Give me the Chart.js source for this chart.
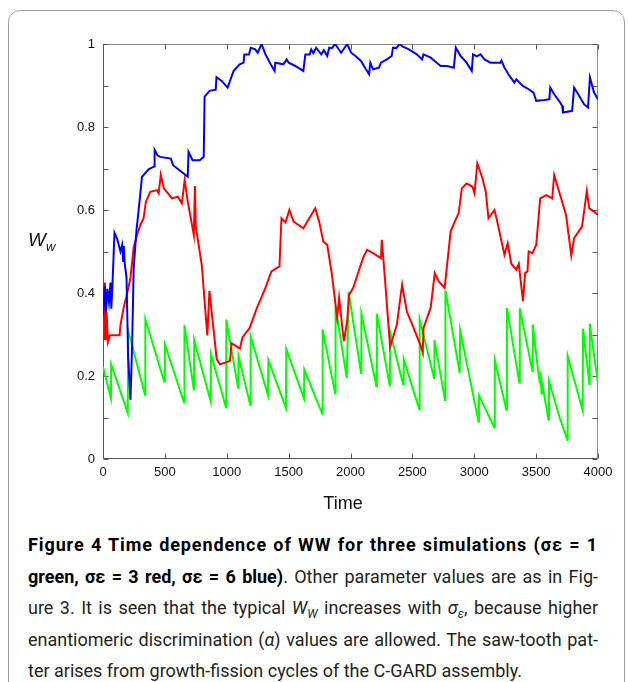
<!DOCTYPE html>
<html>
<head>
<meta charset="utf-8">
<script src="https://cdn.jsdelivr.net/npm/chart.js@4.4.1/dist/chart.umd.min.js"></script>
<style>
  html, body { margin:0; padding:0; background:#fff; }
  body { width:628px; height:682px; overflow:hidden; position:relative; }
  #card { position:absolute; left:8px; top:10px; width:617px; height:720px;
          border:1.5px solid #a0a0a0; border-radius:12px; box-sizing:border-box; }
  #c { position:absolute; left:0; top:0; }
  #ylab { position:absolute; left:28px; top:229px; font: italic 19px "Liberation Sans", Arial, sans-serif; color:#111; }
  #ylab sub { font-size:13px; vertical-align:-5px; }
  #xlab { position:absolute; left:0; width:686px; top:493px; text-align:center;
          font: 18px "Liberation Sans", Arial, sans-serif; color:#111; }
  #cap { position:absolute; left:28px; top:529px; width:570px;
         font-family: Roboto, "Open Sans", sans-serif; font-size:18px; line-height:31.5px; color:#231f20; }
  #cap .ln { text-align:justify; text-align-last:justify; white-space:normal; height:31.5px; overflow:visible; }
  #cap .first b { letter-spacing:0.9px; }
  #cap .last { text-align-last:left; }
  #cap b { font-weight:700; color:#000; }
  #cap sub { font-size:12px; vertical-align:-4px; }
</style>
</head>
<body>
<div id="card"></div>
<canvas id="c" width="628" height="520"></canvas>
<div id="ylab">W<sub>w</sub></div>
<div id="xlab">Time</div>
<div id="cap">
  <div class="ln first"><b>Figure 4 Time dependence of WW for three simulations (σε = 1</b></div>
  <div class="ln"><b>green, σε = 3 red, σε = 6 blue)</b>. Other parameter values are as in Fig-</div>
  <div class="ln">ure 3. It is seen that the typical <i>W<sub>W</sub></i> increases with <i>σ<sub>ε</sub></i>, because higher</div>
  <div class="ln">enantiomeric discrimination (<i>α</i>) values are allowed. The saw-tooth pat-</div>
  <div class="ln last">ter arises from growth-fission cycles of the C-GARD assembly.</div>
</div>
<script>
// ---- data (time, W_w) ----
const xTickValues = [0, 500, 1000, 1500, 2000, 2500, 3000, 3500, 4000];
const yTickLabels = ['0', '0.2', '0.4', '0.6', '0.8', '1'];

const greenTime = [0,64,66,200,203,340,342,495,500,655,658,735,737,870,873,994,996,1092,1095,1190,1193,1333,1336,1478,1481,1624,1627,1772,1775,1876,1879,1970,1985,2085,2088,2210,2213,2318,2321,2425,2430,2556,2559,2675,2678,2764,2767,2883,2886,3035,3038,3163,3166,3260,3264,3365,3368,3470,3473,3520,3527,3535,3545,3550,3600,3604,3690,3752,3755,3876,3879,3930,3933,4000];
const greenW    = [0.222,0.146,0.228,0.111,0.31,0.154,0.337,0.186,0.276,0.136,0.322,0.165,0.287,0.139,0.252,0.124,0.336,0.171,0.248,0.13,0.296,0.154,0.238,0.123,0.265,0.146,0.215,0.109,0.312,0.158,0.368,0.195,0.403,0.207,0.35,0.175,0.35,0.175,0.305,0.18,0.24,0.12,0.336,0.195,0.287,0.142,0.406,0.207,0.31,0.09,0.153,0.076,0.238,0.118,0.364,0.184,0.363,0.212,0.324,0.202,0.19,0.2,0.155,0.18,0.095,0.188,0.1,0.046,0.248,0.117,0.314,0.181,0.326,0.182];

const redTime = [0,8,16,24,29,40,56,134,141,168,195,222,248,275,302,328,347,382,435,450,467,492,525,557,605,637,660,685,734,743,750,798,843,860,919,945,1026,1039,1106,1127,1186,1240,1315,1361,1426,1442,1475,1506,1540,1619,1715,1747,1780,1812,1850,1892,1908,1940,1947,1973,1989,2021,2101,2134,2182,2246,2253,2278,2320,2375,2417,2455,2520,2568,2584,2590,2648,2681,2713,2761,2809,2842,2874,2900,2938,2986,3002,3025,3067,3093,3115,3163,3180,3244,3270,3300,3340,3360,3394,3411,3430,3440,3470,3501,3533,3582,3630,3646,3678,3742,3784,3807,3871,3910,3929,3968,4000];
const redW    = [0.302,0.286,0.425,0.286,0.354,0.282,0.298,0.298,0.322,0.366,0.398,0.437,0.51,0.54,0.564,0.58,0.62,0.644,0.648,0.64,0.685,0.652,0.64,0.628,0.632,0.616,0.672,0.62,0.54,0.658,0.56,0.468,0.298,0.405,0.24,0.228,0.236,0.279,0.266,0.293,0.316,0.361,0.414,0.452,0.464,0.58,0.57,0.6,0.572,0.556,0.604,0.572,0.524,0.516,0.444,0.34,0.388,0.3,0.284,0.332,0.396,0.412,0.484,0.504,0.496,0.484,0.528,0.436,0.27,0.324,0.42,0.356,0.308,0.272,0.256,0.316,0.364,0.448,0.428,0.412,0.548,0.572,0.592,0.652,0.664,0.656,0.64,0.712,0.676,0.644,0.58,0.6,0.58,0.492,0.52,0.47,0.456,0.47,0.38,0.448,0.452,0.5,0.496,0.516,0.628,0.636,0.628,0.684,0.652,0.588,0.49,0.532,0.56,0.646,0.604,0.596,0.588];

const blueTime = [0,13,24,35,48,61,67,75,93,115,141,155,163,168,176,190,203,222,235,248,270,288,315,368,414,417,440,460,548,566,685,691,724,782,814,821,862,911,917,959,1007,1055,1104,1136,1142,1180,1194,1230,1250,1281,1313,1355,1387,1392,1458,1484,1500,1554,1619,1635,1670,1683,1700,1722,1764,1785,1812,1828,1850,1876,1924,1973,2005,2040,2085,2117,2150,2160,2182,2230,2246,2294,2333,2343,2370,2397,2420,2471,2536,2578,2590,2648,2697,2729,2780,2835,2851,2890,2938,2980,2990,3020,3051,3083,3130,3211,3220,3244,3276,3324,3340,3392,3440,3479,3501,3570,3607,3614,3646,3694,3710,3717,3791,3807,3840,3887,3919,3935,3968,4000];
const blueW    = [0.346,0.417,0.354,0.41,0.378,0.425,0.362,0.41,0.545,0.53,0.5,0.516,0.477,0.513,0.47,0.437,0.246,0.143,0.27,0.46,0.55,0.6,0.68,0.698,0.705,0.745,0.732,0.728,0.724,0.708,0.68,0.74,0.72,0.72,0.728,0.873,0.887,0.89,0.92,0.911,0.895,0.935,0.951,0.955,0.975,0.975,0.991,0.987,0.979,1.0,0.975,0.951,0.935,0.955,0.951,0.963,0.955,0.947,0.935,0.975,0.975,0.987,0.978,0.991,0.975,0.985,0.971,0.991,0.99,1.0,0.979,1.0,0.979,0.971,0.959,0.943,0.927,0.955,0.939,0.943,0.955,0.963,0.971,0.991,0.99,1.0,0.994,0.987,0.975,0.963,0.975,0.967,0.955,0.947,0.947,0.943,0.991,0.971,0.955,0.935,0.975,0.97,0.975,0.963,0.955,0.955,0.96,0.943,0.927,0.907,0.915,0.899,0.891,0.883,0.863,0.865,0.867,0.895,0.879,0.859,0.851,0.835,0.839,0.895,0.879,0.855,0.847,0.919,0.883,0.867];

function pts(ts, ws) { return ts.map((t, i) => ({ x: t, y: ws[i] })); }

const frameTicks = {
  id: 'frameTicks',
  beforeDatasetsDraw(chart) {
    const { ctx, chartArea: a, scales: { x, y } } = chart;
    ctx.save();
    ctx.lineWidth = 1;
    const L = Math.round(a.left) + 0.5, R = Math.round(a.right) - 0.5;
    const T = Math.round(a.top) + 0.5, B = Math.round(a.bottom) - 0.5;
    ctx.strokeStyle = '#8a8a8a';
    ctx.beginPath(); ctx.moveTo(L, T); ctx.lineTo(R, T); ctx.lineTo(R, B); ctx.stroke();
    ctx.strokeStyle = '#555';
    ctx.beginPath(); ctx.moveTo(L, T); ctx.lineTo(L, B); ctx.lineTo(R, B); ctx.stroke();
    ctx.beginPath();
    x.ticks.forEach(t => {
      const px = Math.round(x.getPixelForValue(t.value)) + 0.5;
      ctx.moveTo(px, B); ctx.lineTo(px, B - 5);
      ctx.moveTo(px, T); ctx.lineTo(px, T + 5);
    });
    y.ticks.forEach(t => {
      const py = Math.round(y.getPixelForValue(t.value)) + 0.5;
      ctx.moveTo(L, py); ctx.lineTo(L + 5, py);
      ctx.moveTo(R, py); ctx.lineTo(R - 5, py);
    });
    ctx.stroke();
    ctx.restore();
  }
};

const lineStyle = { showLine: true, pointRadius: 0, borderWidth: 2, tension: 0, fill: false };

new Chart(document.getElementById('c'), {
  type: 'scatter',
  data: {
    datasets: [
      Object.assign({ label: 'σε = 6', data: pts(blueTime, blueW), borderColor: '#0000ff', order: 1 }, lineStyle),
      Object.assign({ label: 'σε = 3', data: pts(redTime, redW), borderColor: '#ff0000', order: 2 }, lineStyle),
      Object.assign({ label: 'σε = 1', data: pts(greenTime, greenW), borderColor: '#00ff00', order: 3 }, lineStyle)
    ]
  },
  options: {
    responsive: false,
    animation: false,
    layout: { padding: { left: 0, right: 30, top: 44, bottom: 0 } },
    plugins: { legend: { display: false }, tooltip: { enabled: false } },
    scales: {
      x: {
        type: 'linear', min: 0, max: 4000,
        afterFit(s) { s.height = 61; },
        afterBuildTicks(s) { s.ticks = xTickValues.map(v => ({ value: v })); },
        grid: { display: false, drawTicks: false },
        border: { display: false },
        ticks: { padding: 6, color: '#111', font: { family: 'Liberation Sans', size: 13 }, maxRotation: 0,
                 callback: v => String(v) }
      },
      y: {
        type: 'linear', min: 0, max: 1,
        afterFit(s) { s.width = 103; },
        grid: { display: false, drawTicks: false },
        border: { display: false },
        ticks: { stepSize: 0.1, padding: 8, color: '#111', font: { family: 'Liberation Sans', size: 13 },
                 callback: v => {
                   const k = Math.round(v * 10);
                   return k % 2 === 0 ? yTickLabels[k / 2] : '';
                 } }
      }
    }
  },
  plugins: [frameTicks]
});
</script>
</body>
</html>
